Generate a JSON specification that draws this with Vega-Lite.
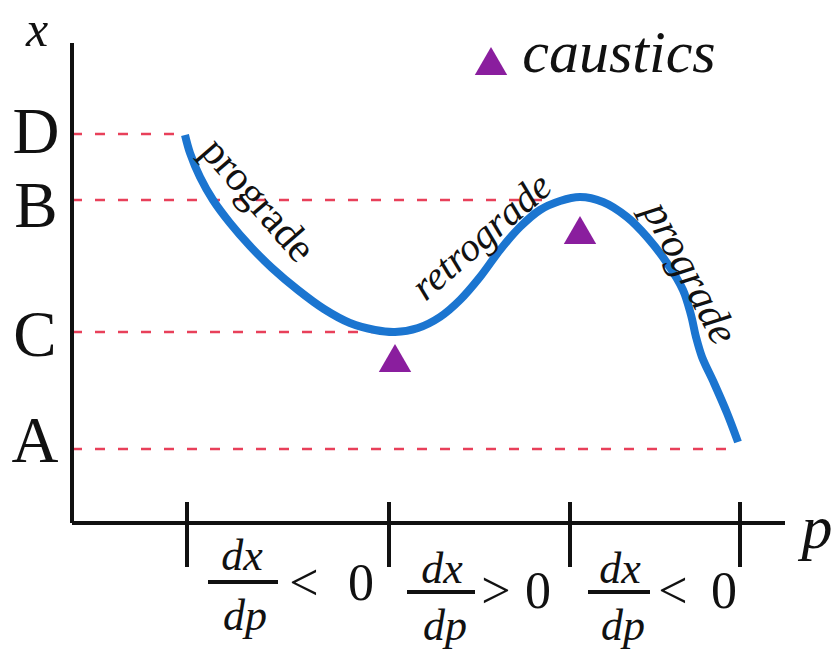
{
  "$schema": "https://vega.github.io/schema/vega-lite/v6.json",
  "width": 838,
  "height": 653,
  "padding": 0,
  "autosize": "none",
  "background": "white",
  "config": {"view": {"stroke": null}},
  "datasets": {
    "curve": [
      {"p": 185, "x": 518}, {"p": 190, "x": 500}, {"p": 200, "x": 476}, {"p": 213, "x": 453},
      {"p": 230, "x": 430}, {"p": 250, "x": 407}, {"p": 272, "x": 385}, {"p": 298, "x": 363},
      {"p": 324, "x": 344}, {"p": 350, "x": 330}, {"p": 375, "x": 323}, {"p": 395, "x": 321},
      {"p": 418, "x": 325}, {"p": 440, "x": 336}, {"p": 460, "x": 353}, {"p": 480, "x": 376},
      {"p": 500, "x": 403}, {"p": 520, "x": 426}, {"p": 540, "x": 443}, {"p": 560, "x": 452},
      {"p": 580, "x": 456}, {"p": 603, "x": 451}, {"p": 627, "x": 436}, {"p": 647, "x": 416},
      {"p": 667, "x": 390}, {"p": 683, "x": 363}, {"p": 691, "x": 338}, {"p": 696, "x": 316},
      {"p": 702, "x": 296}, {"p": 714, "x": 270}, {"p": 727, "x": 240}, {"p": 738, "x": 211}
    ],
    "guides": [
      {"level": "D", "x": 519, "p0": 72, "p1": 185},
      {"level": "B", "x": 453, "p0": 72, "p1": 545},
      {"level": "C", "x": 321, "p0": 72, "p1": 390},
      {"level": "A", "x": 204, "p0": 72, "p1": 733}
    ],
    "levelLabels": [
      {"level": "D", "p": 36, "x": 500},
      {"level": "B", "p": 36, "x": 426},
      {"level": "C", "p": 35, "x": 297},
      {"level": "A", "p": 35, "x": 191}
    ],
    "caustics": [
      {"p": 395, "x": 295},
      {"p": 580, "x": 423}
    ],
    "legendMark": [{"p": 491, "x": 592}],
    "legendText": [{"text": "caustics", "p": 619, "x": 581}],
    "yAxis": [{"p": 72, "x0": 130, "x1": 610}],
    "xAxis": [{"x": 130, "p0": 72, "p1": 785}],
    "ticks": [
      {"p": 187, "x0": 86, "x1": 151}, {"p": 389, "x0": 86, "x1": 151},
      {"p": 570, "x0": 86, "x1": 151}, {"p": 740, "x0": 86, "x1": 151}
    ],
    "xTitle": [{"text": "x", "p": 37, "x": 607}],
    "pTitle": [{"text": "p", "p": 817, "x": 105}],
    "progradeLeft": [{"text": "prograde", "p": 258, "x": 453}],
    "retrograde": [{"text": "retrograde", "p": 482, "x": 416}],
    "progradeRight": [{"text": "prograde", "p": 690, "x": 380}],
    "fracText": [
      {"text": "dx", "p": 242, "x": 83}, {"text": "dp", "p": 245, "x": 23},
      {"text": "dx", "p": 442, "x": 70}, {"text": "dp", "p": 445, "x": 13},
      {"text": "dx", "p": 620, "x": 70}, {"text": "dp", "p": 623, "x": 13}
    ],
    "fracBars": [
      {"x": 71, "p0": 208, "p1": 278},
      {"x": 61, "p0": 407, "p1": 475},
      {"x": 61, "p0": 588, "p1": 650}
    ],
    "relations": [
      {"text": "<", "p": 304, "x": 53}, {"text": "0", "p": 361, "x": 53},
      {"text": ">", "p": 496, "x": 45}, {"text": "0", "p": 538, "x": 45},
      {"text": "<", "p": 673, "x": 45}, {"text": "0", "p": 724, "x": 45}
    ]
  },
  "layer": [
    {
      "data": {"name": "guides"},
      "mark": {"type": "rule", "color": "#E8405A", "strokeWidth": 2.5, "strokeDash": [10, 13]},
      "encoding": {
        "x": {"field": "p0", "type": "quantitative", "scale": {"domain": [0, 838], "nice": false, "zero": false}, "axis": null},
        "x2": {"field": "p1"},
        "y": {"field": "x", "type": "quantitative", "scale": {"domain": [0, 653], "nice": false, "zero": false}, "axis": null}
      }
    },
    {
      "data": {"name": "yAxis"},
      "mark": {"type": "rule", "color": "#111111", "strokeWidth": 4},
      "encoding": {
        "x": {"field": "p", "type": "quantitative"},
        "y": {"field": "x0", "type": "quantitative"},
        "y2": {"field": "x1"}
      }
    },
    {
      "data": {"name": "xAxis"},
      "mark": {"type": "rule", "color": "#111111", "strokeWidth": 4},
      "encoding": {
        "x": {"field": "p0", "type": "quantitative"},
        "x2": {"field": "p1"},
        "y": {"field": "x", "type": "quantitative"}
      }
    },
    {
      "data": {"name": "ticks"},
      "mark": {"type": "rule", "color": "#111111", "strokeWidth": 4},
      "encoding": {
        "x": {"field": "p", "type": "quantitative"},
        "y": {"field": "x0", "type": "quantitative"},
        "y2": {"field": "x1"}
      }
    },
    {
      "data": {"name": "curve"},
      "mark": {"type": "line", "color": "#1B75D0", "strokeWidth": 8, "interpolate": "catmull-rom", "strokeCap": "butt"},
      "encoding": {
        "x": {"field": "p", "type": "quantitative"},
        "y": {"field": "x", "type": "quantitative"}
      }
    },
    {
      "data": {"name": "caustics"},
      "mark": {"type": "point", "shape": "triangle-up", "filled": true, "color": "#8A1E9E", "opacity": 1, "size": 1050},
      "encoding": {
        "x": {"field": "p", "type": "quantitative"},
        "y": {"field": "x", "type": "quantitative"}
      }
    },
    {
      "data": {"name": "legendMark"},
      "mark": {"type": "point", "shape": "triangle-up", "filled": true, "color": "#8A1E9E", "opacity": 1, "size": 1050},
      "encoding": {
        "x": {"field": "p", "type": "quantitative"},
        "y": {"field": "x", "type": "quantitative"}
      }
    },
    {
      "data": {"name": "legendText"},
      "mark": {"type": "text", "font": "Liberation Serif", "fontStyle": "italic", "fontSize": 60, "align": "center", "baseline": "alphabetic", "color": "#111111"},
      "encoding": {
        "x": {"field": "p", "type": "quantitative"},
        "y": {"field": "x", "type": "quantitative"},
        "text": {"field": "text"}
      }
    },
    {
      "data": {"name": "levelLabels"},
      "mark": {"type": "text", "font": "Liberation Serif", "fontSize": 65, "align": "center", "baseline": "alphabetic", "color": "#111111"},
      "encoding": {
        "x": {"field": "p", "type": "quantitative"},
        "y": {"field": "x", "type": "quantitative"},
        "text": {"field": "level"}
      }
    },
    {
      "data": {"name": "xTitle"},
      "mark": {"type": "text", "font": "Liberation Serif", "fontStyle": "italic", "fontSize": 50, "align": "center", "baseline": "alphabetic", "color": "#111111"},
      "encoding": {
        "x": {"field": "p", "type": "quantitative"},
        "y": {"field": "x", "type": "quantitative"},
        "text": {"field": "text"}
      }
    },
    {
      "data": {"name": "pTitle"},
      "mark": {"type": "text", "font": "Liberation Serif", "fontStyle": "italic", "fontSize": 62, "align": "center", "baseline": "alphabetic", "color": "#111111"},
      "encoding": {
        "x": {"field": "p", "type": "quantitative"},
        "y": {"field": "x", "type": "quantitative"},
        "text": {"field": "text"}
      }
    },
    {
      "data": {"name": "progradeLeft"},
      "mark": {"type": "text", "font": "Liberation Serif", "fontSize": 42, "angle": 49, "align": "center", "baseline": "middle", "color": "#111111"},
      "encoding": {
        "x": {"field": "p", "type": "quantitative"},
        "y": {"field": "x", "type": "quantitative"},
        "text": {"field": "text"}
      }
    },
    {
      "data": {"name": "retrograde"},
      "mark": {"type": "text", "font": "Liberation Serif", "fontStyle": "italic", "fontSize": 40, "angle": -41, "align": "center", "baseline": "middle", "color": "#111111"},
      "encoding": {
        "x": {"field": "p", "type": "quantitative"},
        "y": {"field": "x", "type": "quantitative"},
        "text": {"field": "text"}
      }
    },
    {
      "data": {"name": "progradeRight"},
      "mark": {"type": "text", "font": "Liberation Serif", "fontStyle": "italic", "fontSize": 42, "angle": 62, "align": "center", "baseline": "middle", "color": "#111111"},
      "encoding": {
        "x": {"field": "p", "type": "quantitative"},
        "y": {"field": "x", "type": "quantitative"},
        "text": {"field": "text"}
      }
    },
    {
      "data": {"name": "fracText"},
      "mark": {"type": "text", "font": "Liberation Serif", "fontStyle": "italic", "fontSize": 44, "align": "center", "baseline": "alphabetic", "color": "#111111"},
      "encoding": {
        "x": {"field": "p", "type": "quantitative"},
        "y": {"field": "x", "type": "quantitative"},
        "text": {"field": "text"}
      }
    },
    {
      "data": {"name": "fracBars"},
      "mark": {"type": "rule", "color": "#111111", "strokeWidth": 4},
      "encoding": {
        "x": {"field": "p0", "type": "quantitative"},
        "x2": {"field": "p1"},
        "y": {"field": "x", "type": "quantitative"}
      }
    },
    {
      "data": {"name": "relations"},
      "mark": {"type": "text", "font": "Liberation Serif", "fontSize": 52, "align": "center", "baseline": "alphabetic", "color": "#111111"},
      "encoding": {
        "x": {"field": "p", "type": "quantitative"},
        "y": {"field": "x", "type": "quantitative"},
        "text": {"field": "text"}
      }
    }
  ]
}
